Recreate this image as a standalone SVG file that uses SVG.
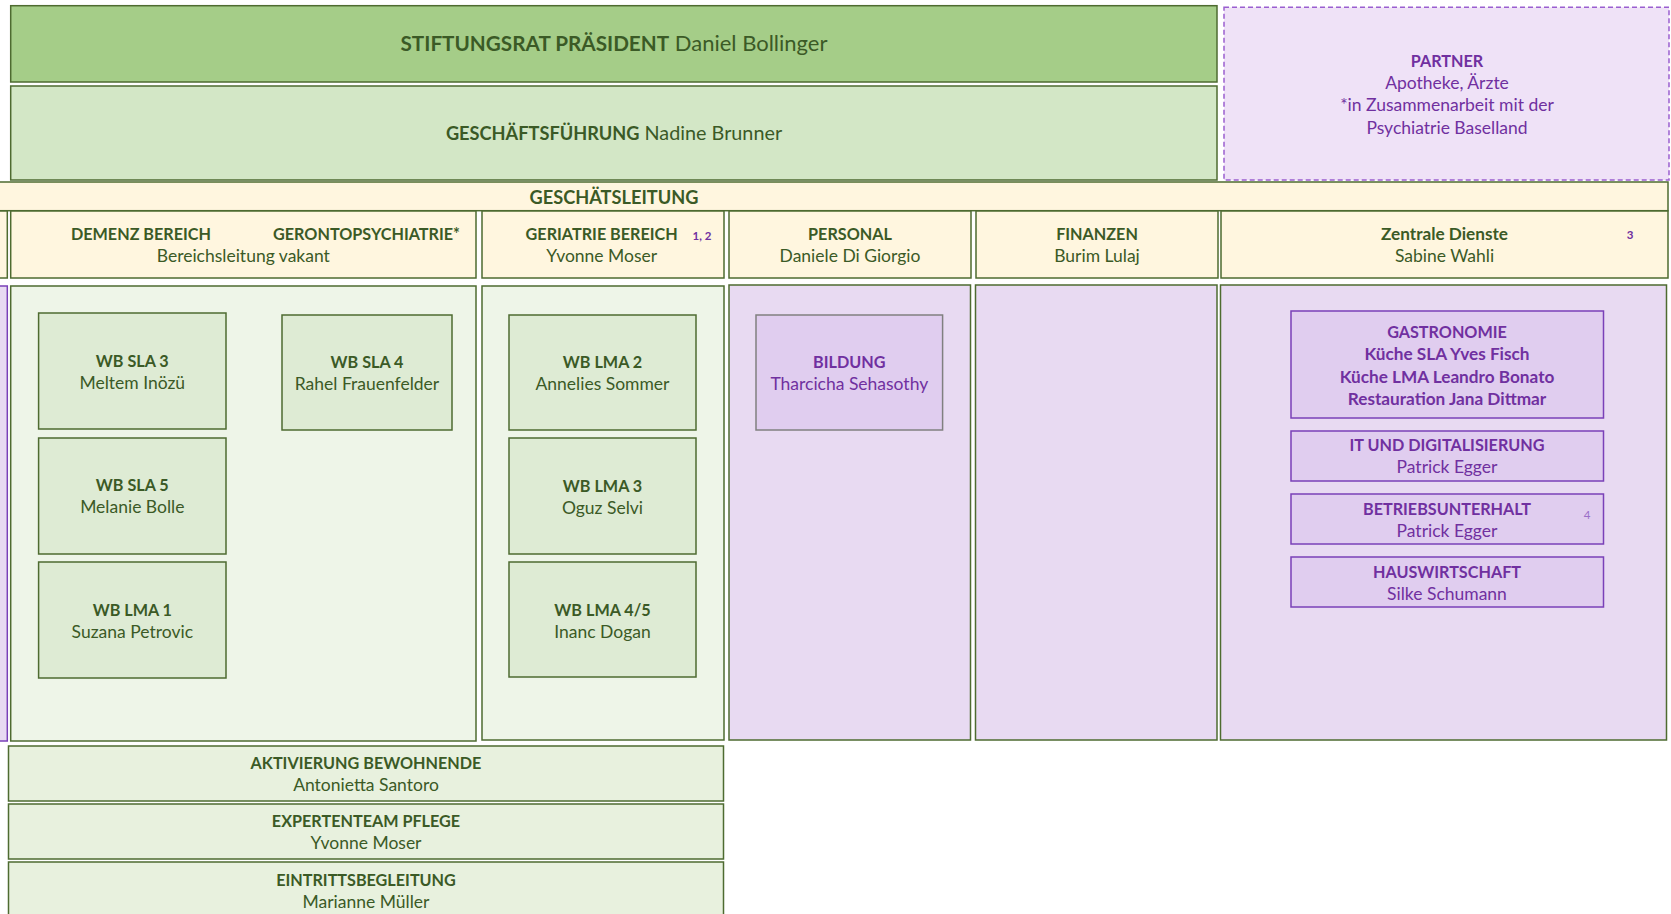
<svg xmlns="http://www.w3.org/2000/svg" width="1671" height="914" viewBox="0 0 1671 914">
<style>
text{font-family:Lato,"Open Sans","Liberation Sans",sans-serif;text-anchor:middle;}
.g{fill:#3b5a26;font-size:17.5px;}
.p{fill:#7030a0;font-size:17.5px;}
.b{font-weight:bold;font-size:16.2px;}
.bm{font-weight:bold;font-size:17.2px;}
.bx{stroke:#4e6b30;stroke-width:1.5;}
.pbx{stroke:#7a40b8;stroke-width:1.5;}
.cream{fill:#fff6df;}
.lg{fill:#eef5e8;}
.wb{fill:#deebd4;}
.row{fill:#e8f1de;}
.pu{fill:#e8daf2;}
.pin{fill:#e0cdef;}
.sup{font-size:11.5px;font-weight:bold;fill:#7030a0;}
</style>
<rect width="1671" height="914" fill="#ffffff"/>
<g id="stiftungsrat">
<rect class="bx" x="10.7" y="5.7" width="1206.3" height="76.3" fill="#a5cd88"/>
<text class="g" x="614" y="51" style="font-size:22px"><tspan style="font-weight:bold;font-size:20.7px">STIFTUNGSRAT PRÄSIDENT</tspan> Daniel Bollinger</text>
</g>
<g id="geschaeftsfuehrung">
<rect class="bx" x="10.7" y="86" width="1206.3" height="94" fill="#d3e7c6"/>
<text class="g" x="614" y="140" style="font-size:19.8px"><tspan style="font-weight:bold;font-size:18.2px">GESCHÄFTSFÜHRUNG</tspan> Nadine Brunner</text>
</g>
<g id="partner">
<rect x="1224" y="7.3" width="445" height="172.7" fill="#efe2f7" stroke="#9a5fd0" stroke-width="1.5" stroke-dasharray="5,3"/>
<text class="p b" x="1447" y="66.5">PARTNER</text>
<text class="p" x="1447" y="89">Apotheke, Ärzte</text>
<text class="p" x="1447" y="111">*in Zusammenarbeit mit der</text>
<text class="p" x="1447" y="133.5">Psychiatrie Baselland</text>
</g>
<g id="geschaeftsleitung">
<rect class="bx cream" x="-5" y="182" width="1673" height="28.7"/>
<text class="g" x="614" y="203.5" style="font-weight:bold;font-size:18.2px">GESCHÄTSLEITUNG</text>
</g>
<g id="header-left">
<rect class="bx cream" x="-5" y="211" width="12.3" height="67"/>
</g>
<g id="demenz">
<rect class="bx cream" x="10.7" y="211" width="465.3" height="67"/>
<text class="g b" x="141" y="239.5">DEMENZ BEREICH</text>
<text class="g b" x="366.5" y="239.5">GERONTOPSYCHIATRIE*</text>
<text class="g" x="243.3" y="262">Bereichsleitung vakant</text>
</g>
<g id="geriatrie">
<rect class="bx cream" x="482" y="211" width="242" height="67"/>
<text class="g b" x="601.7" y="239.5">GERIATRIE BEREICH</text>
<text class="sup" x="702" y="240">1, 2</text>
<text class="g" x="601.7" y="262">Yvonne Moser</text>
</g>
<g id="personal">
<rect class="bx cream" x="729" y="211" width="242" height="67"/>
<text class="g b" x="850" y="239.5">PERSONAL</text>
<text class="g" x="850" y="262">Daniele Di Giorgio</text>
</g>
<g id="finanzen">
<rect class="bx cream" x="976" y="211" width="242" height="67"/>
<text class="g b" x="1097" y="239.5">FINANZEN</text>
<text class="g" x="1097" y="262">Burim Lulaj</text>
</g>
<g id="zentrale-dienste">
<rect class="bx cream" x="1221" y="211" width="447" height="67"/>
<text class="g bm" x="1444.5" y="239.5">Zentrale Dienste</text>
<text class="sup" x="1630" y="239">3</text>
<text class="g" x="1444.5" y="262">Sabine Wahli</text>
</g>
<g id="body-left">
<rect class="pbx pu" x="-5" y="286" width="12.3" height="455"/>
</g>
<g id="demenz-body">
<rect class="bx lg" x="10.7" y="286" width="465.3" height="455"/>
</g>
<g id="geriatrie-body">
<rect class="bx lg" x="482" y="286" width="242" height="454"/>
</g>
<g id="personal-body">
<rect class="bx pu" x="729" y="285" width="241.5" height="455"/>
</g>
<g id="finanzen-body">
<rect class="bx pu" x="975.5" y="285" width="241.5" height="455"/>
</g>
<g id="zentrale-body">
<rect class="bx pu" x="1220.5" y="285" width="446" height="455"/>
</g>
<g id="wb-sla-3">
<rect class="bx wb" x="38.6" y="313" width="187.4" height="116"/>
<text class="g b" x="132.3" y="367">WB SLA 3</text>
<text class="g" x="132.3" y="389">Meltem Inözü</text>
</g>
<g id="wb-sla-4">
<rect class="bx wb" x="282" y="315" width="170" height="115"/>
<text class="g b" x="367" y="368">WB SLA 4</text>
<text class="g" x="367" y="390">Rahel Frauenfelder</text>
</g>
<g id="wb-sla-5">
<rect class="bx wb" x="38.6" y="438" width="187.4" height="116"/>
<text class="g b" x="132.3" y="491">WB SLA 5</text>
<text class="g" x="132.3" y="513">Melanie Bolle</text>
</g>
<g id="wb-lma-1">
<rect class="bx wb" x="38.6" y="562" width="187.4" height="116"/>
<text class="g b" x="132.3" y="615.5">WB LMA 1</text>
<text class="g" x="132.3" y="637.5">Suzana Petrovic</text>
</g>
<g id="wb-lma-2">
<rect class="bx wb" x="509" y="315" width="187" height="115"/>
<text class="g b" x="602.5" y="368">WB LMA 2</text>
<text class="g" x="602.5" y="390">Annelies Sommer</text>
</g>
<g id="wb-lma-3">
<rect class="bx wb" x="509" y="438" width="187" height="116"/>
<text class="g b" x="602.5" y="491.5">WB LMA 3</text>
<text class="g" x="602.5" y="513.5">Oguz Selvi</text>
</g>
<g id="wb-lma-45">
<rect class="bx wb" x="509" y="562" width="187" height="115"/>
<text class="g b" x="602.5" y="615.5">WB LMA 4/5</text>
<text class="g" x="602.5" y="637.5">Inanc Dogan</text>
</g>
<g id="bildung">
<rect class="pin" x="756" y="315" width="186.6" height="115" stroke="#808080" stroke-width="1.5"/>
<text class="p b" x="849.3" y="368">BILDUNG</text>
<text class="p" x="849.3" y="390">Tharcicha Sehasothy</text>
</g>
<g id="gastronomie">
<rect class="pbx pin" x="1291" y="311" width="312.5" height="107"/>
<text class="p b" x="1447" y="338">GASTRONOMIE</text>
<text class="p bm" x="1447" y="359.5">Küche SLA Yves Fisch</text>
<text class="p bm" x="1447" y="383">Küche LMA Leandro Bonato</text>
<text class="p bm" x="1447" y="404.5">Restauration Jana Dittmar</text>
</g>
<g id="it">
<rect class="pbx pin" x="1291" y="431" width="312.5" height="50"/>
<text class="p b" x="1447" y="451">IT UND DIGITALISIERUNG</text>
<text class="p" x="1447" y="473">Patrick Egger</text>
</g>
<g id="betriebsunterhalt">
<rect class="pbx pin" x="1291" y="494" width="312.5" height="50"/>
<text class="p b" x="1447" y="514.5">BETRIEBSUNTERHALT</text>
<text x="1587" y="518.5" style="font-size:11.5px;fill:#9b6fc8">4</text>
<text class="p" x="1447" y="537">Patrick Egger</text>
</g>
<g id="hauswirtschaft">
<rect class="pbx pin" x="1291" y="557" width="312.5" height="50"/>
<text class="p b" x="1447" y="578">HAUSWIRTSCHAFT</text>
<text class="p" x="1447" y="600">Silke Schumann</text>
</g>
<g id="aktivierung">
<rect class="bx row" x="8.5" y="746" width="715" height="55"/>
<text class="g b" x="366" y="769">AKTIVIERUNG BEWOHNENDE</text>
<text class="g" x="366" y="791">Antonietta Santoro</text>
</g>
<g id="expertenteam">
<rect class="bx row" x="8.5" y="804" width="715" height="55"/>
<text class="g b" x="366" y="827">EXPERTENTEAM PFLEGE</text>
<text class="g" x="366" y="849">Yvonne Moser</text>
</g>
<g id="eintrittsbegleitung">
<rect class="bx row" x="8.5" y="862" width="715" height="60"/>
<text class="g b" x="366" y="886">EINTRITTSBEGLEITUNG</text>
<text class="g" x="366" y="908">Marianne Müller</text>
</g>
<g id="connectors"></g>
</svg>
